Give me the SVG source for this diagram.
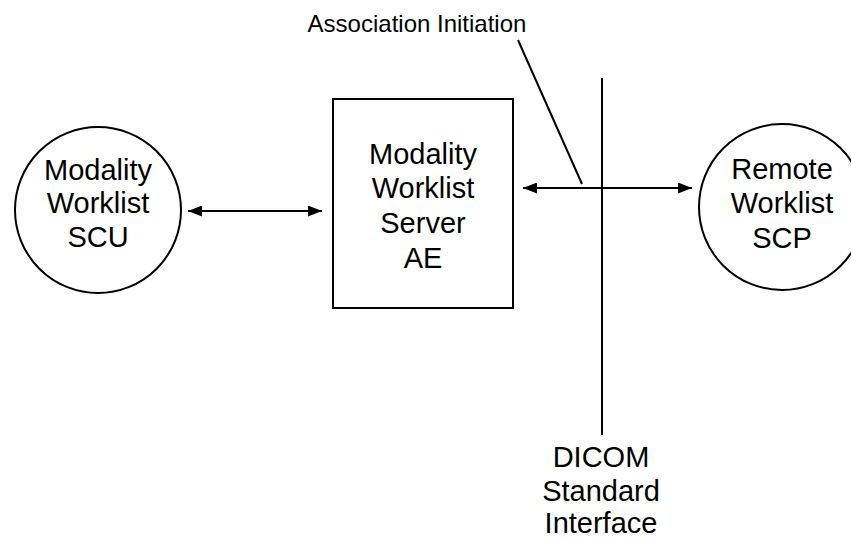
<svg xmlns="http://www.w3.org/2000/svg" width="851" height="538" viewBox="0 0 851 538">
<style>
.shape{fill:#fff;stroke:#000;stroke-width:2}
.ln{fill:none;stroke:#000;stroke-width:2}
text{font-family:"Liberation Sans",Arial,sans-serif;fill:#000;text-anchor:middle}
.t{font-size:29px}
.s{font-size:24px}
</style>
<defs>
<marker id="ah" viewBox="0 0 14 11" refX="14" refY="5.5" markerWidth="14" markerHeight="11" markerUnits="userSpaceOnUse" orient="auto-start-reverse">
<path d="M0,0 L14,5.5 L0,11 Z" fill="#000"/>
</marker>
</defs>
<rect width="851" height="538" fill="#fff"/>
<g id="scu">
<circle class="shape" cx="98" cy="210" r="83"/>
<text class="t" x="98" y="180">Modality</text>
<text class="t" x="98" y="213">Worklist</text>
<text class="t" x="98" y="247">SCU</text>
</g>
<g id="server">
<rect class="shape" x="333" y="99" width="180" height="209"/>
<text class="t" x="423" y="164">Modality</text>
<text class="t" x="423" y="198">Worklist</text>
<text class="t" x="423" y="233">Server</text>
<text class="t" x="423" y="268">AE</text>
</g>
<g id="scp">
<circle class="shape" cx="782" cy="207" r="83"/>
<text class="t" x="782" y="179">Remote</text>
<text class="t" x="782" y="213">Worklist</text>
<text class="t" x="782" y="248">SCP</text>
</g>
<g id="interface">
<line class="ln" x1="602" y1="78" x2="602" y2="435"/>
<text class="t" x="601" y="467">DICOM</text>
<text class="t" x="601" y="501">Standard</text>
<text class="t" x="601" y="533">Interface</text>
</g>
<g id="assoc-label">
<text class="s" x="417" y="32">Association Initiation</text>
</g>
<g id="connectors">
<line class="ln" x1="188" y1="211" x2="322" y2="211" marker-start="url(#ah)" marker-end="url(#ah)"/>
<line class="ln" x1="523" y1="188" x2="692" y2="188" marker-start="url(#ah)" marker-end="url(#ah)"/>
<line class="ln" x1="518" y1="40" x2="582" y2="184"/>
</g>
</svg>
